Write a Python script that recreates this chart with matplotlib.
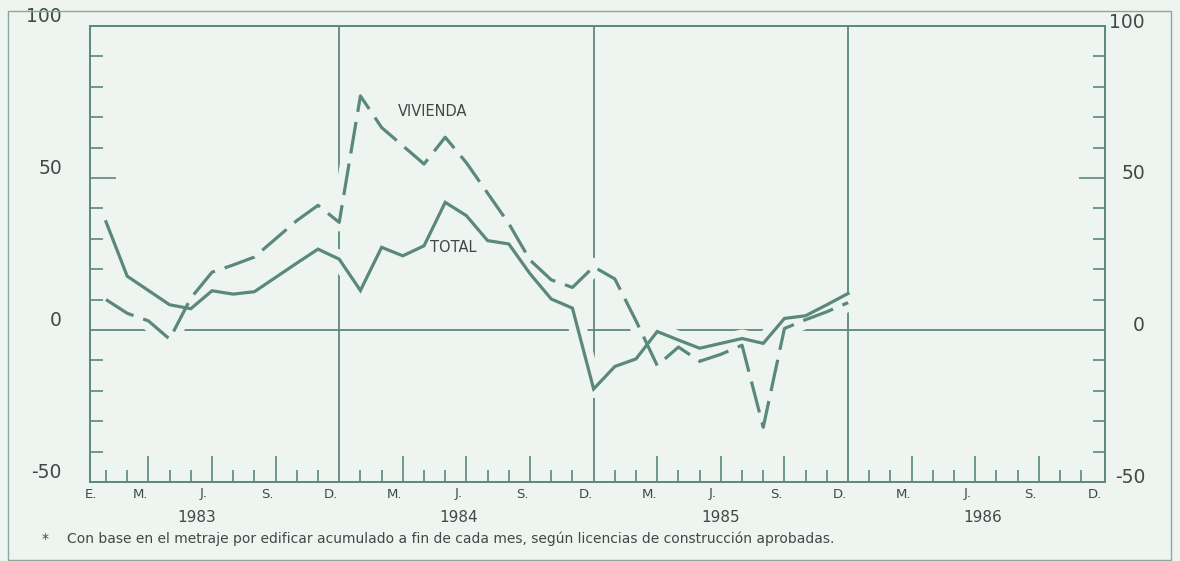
import matplotlib
matplotlib.use('Agg')
import matplotlib.pyplot as plt
import numpy as np
from matplotlib.patches import Rectangle

# variacion anual (%), enero 1983 - diciembre 1985
total = [35.6, 17.7, 13.0, 8.3, 7.0, 12.9, 11.8, 12.6, 17.3, 22.0, 26.6, 23.3,
         13.0, 27.2, 24.4, 27.7, 42.0, 37.6, 29.4, 28.3, 18.5, 10.2, 7.2, -19.4,
         -12.0, -9.5, -0.5, -3.3, -6.0, -4.4, -2.8, -4.4, 3.8, 4.7, 8.3, 12.0]
vivienda = [10.0, 5.5, 3.0, -3.0, 10.5, 19.0, 21.4, 24.0, 30.0, 36.0, 41.0, 35.4,
            77.0, 66.6, 60.6, 54.6, 63.4, 55.0, 45.0, 35.0, 23.0, 16.5, 14.0, 20.8,
            16.8, 3.0, -11.7, -5.6, -10.3, -8.0, -5.0, -32.0, 0.5, 3.4, 6.0, 9.0]
meses = ['M.', 'J.', 'S.', 'D.']
anios = ['1983', '1984', '1985', '1986']
y_labels = [100, 50, 0, -50]
nota = ('Con base en el metraje por edificar acumulado a fin de cada mes, '
        'según licencias de construcción aprobadas.')

bg = '#eef5f0'
ln = '#5b887d'
tx = '#3d4a46'

fig = plt.figure(figsize=(11.8, 5.61), dpi=100, facecolor=bg)
W, H = 1180, 561
ax = fig.add_axes([90 / W, 1 - 482 / H, (1105 - 90) / W, (482 - 26) / H])
ax.set_facecolor(bg)
ax.set_xlim(-0.755, 47.12)
ax.set_ylim(-50, 100)

x = np.arange(len(total))
# fondo claro alrededor de las curvas (corta las lineas de referencia)
for s in (total, vivienda):
    ax.plot(x, s, color=bg, lw=13, solid_capstyle='butt', solid_joinstyle='round', zorder=2)
ax.plot(x, total, color=ln, lw=2.3, solid_joinstyle='miter', zorder=3)
ax.plot(x, vivienda, color=ln, lw=2.3, linestyle=(0, (10, 3.2)), dash_capstyle='butt', zorder=3)

ax.axhline(0, color=ln, lw=1.3, zorder=1)
for m in (11, 23, 35):
    ax.axvline(m, color=ln, lw=1.3, zorder=1)

for sp in ax.spines.values():
    sp.set_color(ln)
    sp.set_linewidth(1.4)

largos = [m for m in range(48) if m % 12 in (2, 5, 8)]
cortos = [m for m in range(47) if m % 12 not in (2, 5, 8, 11)]
ax.set_xticks(largos)
ax.set_xticks(cortos, minor=True)
ax.set_yticks([50])
ax.set_yticks([v for v in range(-40, 100, 10) if v not in (0, 50)], minor=True)
ax.tick_params(which='major', direction='in', length=19, width=1.2, color=ln,
               left=True, right=True, bottom=True, top=False,
               labelleft=False, labelbottom=False)
ax.tick_params(which='minor', direction='in', length=9, width=1.2, color=ln,
               left=True, right=True, bottom=True, top=False)

ytr = ax.get_yaxis_transform()
for v in y_labels:
    ax.annotate(str(v), xy=(0, v), xycoords=ytr, xytext=(-28, 9), textcoords='offset pixels',
                ha='right', va='center', fontsize=13.5, color=tx)
    ax.annotate(str(v), xy=(1, v), xycoords=ytr, xytext=(40, 4), textcoords='offset pixels',
                ha='right', va='center', fontsize=13.5, color=tx)

xtr = ax.get_xaxis_transform()
ax.annotate('E.', xy=(-0.755, 0), xycoords=xtr, xytext=(1, -12), textcoords='offset pixels',
            ha='center', va='center', fontsize=9.5, color=tx)
for k in range(4):
    for j, lab in enumerate(meses):
        m = 12 * k + 2 + 3 * j
        ax.annotate(lab, xy=(m, 0), xycoords=xtr, xytext=(-8, -12), textcoords='offset pixels',
                    ha='center', va='center', fontsize=9.5, color=tx)
for k, a in enumerate(anios):
    ax.annotate(a, xy=(4.3 + 12.35 * k, 0), xycoords=xtr, xytext=(0, -36),
                textcoords='offset pixels', ha='center', va='center', fontsize=11, color=tx)

ax.text(15.4, 71.8, 'VIVIENDA', ha='center', va='center', fontsize=10.5, color=tx, zorder=4)
ax.text(16.4, 27.0, 'TOTAL', ha='center', va='center', fontsize=10.5, color=tx, zorder=4)

fig.text(45 / W, 1 - 539 / H, '*', ha='center', va='center', fontsize=10, color=tx)
fig.text(67 / W, 1 - 539 / H, nota, ha='left', va='center', fontsize=10, color=tx)

fig.patches.append(Rectangle((8 / W, 1 / H), 1163 / W, 549 / H, transform=fig.transFigure,
                             fill=False, edgecolor='#8aa89f', lw=1.0))

fig.savefig('out.png', dpi=100, facecolor=bg)
